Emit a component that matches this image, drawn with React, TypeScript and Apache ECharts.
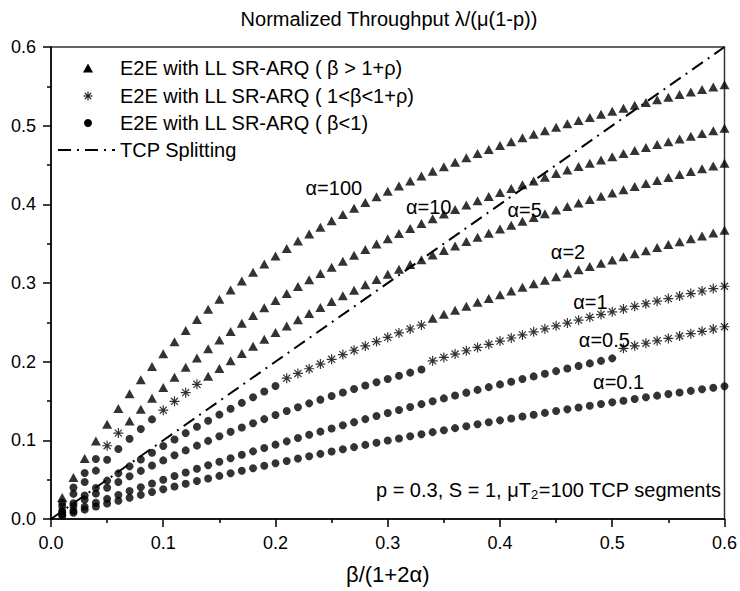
import React, { useEffect, useRef } from 'react';
import * as echarts from 'echarts';

const FONT = '"Liberation Sans", Arial, Helvetica, sans-serif';

const xValues = [
  0.01, 0.02, 0.03, 0.04, 0.05, 0.06, 0.07, 0.08, 0.09, 0.1,
  0.11, 0.12, 0.13, 0.14, 0.15, 0.16, 0.17, 0.18, 0.19, 0.2,
  0.21, 0.22, 0.23, 0.24, 0.25, 0.26, 0.27, 0.28, 0.29, 0.3,
  0.31, 0.32, 0.33, 0.34, 0.35, 0.36, 0.37, 0.38, 0.39, 0.4,
  0.41, 0.42, 0.43, 0.44, 0.45, 0.46, 0.47, 0.48, 0.49, 0.5,
  0.51, 0.52, 0.53, 0.54, 0.55, 0.56, 0.57, 0.58, 0.59, 0.6,
];

const yA100 = [
  0.0273, 0.0529, 0.0768, 0.0993, 0.1205, 0.1404, 0.1593, 0.1771, 0.194, 0.21,
  0.2253, 0.2397, 0.2535, 0.2667, 0.2792, 0.2912, 0.3027, 0.3137, 0.3242, 0.3343,
  0.344, 0.3533, 0.3623, 0.3709, 0.3792, 0.3872, 0.3949, 0.4023, 0.4095, 0.4165,
  0.4232, 0.4297, 0.4359, 0.442, 0.4479, 0.4536, 0.4592, 0.4645, 0.4697, 0.4748,
  0.4797, 0.4845, 0.4891, 0.4936, 0.498, 0.5023, 0.5065, 0.5105, 0.5145, 0.5183,
  0.5221, 0.5258, 0.5293, 0.5328, 0.5362, 0.5396, 0.5428, 0.546, 0.5491, 0.5521,
];
const yA10 = [
  0.0205, 0.04, 0.0585, 0.0762, 0.0931, 0.1092, 0.1247, 0.1394, 0.1536, 0.1672,
  0.1802, 0.1928, 0.2048, 0.2164, 0.2276, 0.2384, 0.2487, 0.2588, 0.2684, 0.2778,
  0.2868, 0.2955, 0.304, 0.3122, 0.3201, 0.3278, 0.3353, 0.3425, 0.3495, 0.3563,
  0.363, 0.3694, 0.3757, 0.3817, 0.3877, 0.3934, 0.399, 0.4045, 0.4098, 0.415,
  0.4201, 0.425, 0.4298, 0.4345, 0.4391, 0.4436, 0.448, 0.4523, 0.4564, 0.4605,
  0.4645, 0.4684, 0.4722, 0.476, 0.4797, 0.4832, 0.4867, 0.4902, 0.4935, 0.4968,
];
const yA5 = [
  0.0163, 0.0319, 0.047, 0.0615, 0.0754, 0.0889, 0.1019, 0.1144, 0.1266, 0.1383,
  0.1496, 0.1606, 0.1712, 0.1815, 0.1914, 0.2011, 0.2105, 0.2196, 0.2284, 0.237,
  0.2453, 0.2534, 0.2613, 0.269, 0.2764, 0.2837, 0.2908, 0.2977, 0.3044, 0.311,
  0.3174, 0.3236, 0.3297, 0.3356, 0.3414, 0.3471, 0.3526, 0.358, 0.3633, 0.3685,
  0.3735, 0.3785, 0.3833, 0.3881, 0.3927, 0.3972, 0.4017, 0.406, 0.4103, 0.4145,
  0.4186, 0.4226, 0.4265, 0.4304, 0.4342, 0.4379, 0.4416, 0.4451, 0.4487, 0.4521,
];
const yA2 = [
  0.0102, 0.0201, 0.0299, 0.0394, 0.0488, 0.058, 0.0669, 0.0757, 0.0843, 0.0928,
  0.1011, 0.1092, 0.1172, 0.125, 0.1327, 0.1402, 0.1476, 0.1548, 0.162, 0.169,
  0.179, 0.185, 0.191, 0.197, 0.203, 0.209, 0.2145, 0.22, 0.2255, 0.231,
  0.2365, 0.2415, 0.2465, 0.2551, 0.2603, 0.2655, 0.2705, 0.2755, 0.2804, 0.2852,
  0.2899, 0.2946, 0.2991, 0.3036, 0.3081, 0.3124, 0.3167, 0.321, 0.3251, 0.3292,
  0.3333, 0.3372, 0.3411, 0.345, 0.3488, 0.3525, 0.3562, 0.3599, 0.3635, 0.367,
];
const yA1 = [
  0.0084, 0.0166, 0.0246, 0.0323, 0.0398, 0.0471, 0.0543, 0.0612, 0.068, 0.0745,
  0.081, 0.0872, 0.0933, 0.0993, 0.1051, 0.1108, 0.1163, 0.1217, 0.127, 0.1321,
  0.1372, 0.1421, 0.147, 0.1517, 0.1563, 0.1608, 0.1653, 0.1696, 0.1738, 0.178,
  0.1821, 0.1861, 0.19, 0.2011, 0.2054, 0.2097, 0.2139, 0.2181, 0.2221, 0.2262,
  0.2301, 0.234, 0.2379, 0.2417, 0.2455, 0.2491, 0.2528, 0.2564, 0.2599, 0.2634,
  0.2669, 0.2703, 0.2736, 0.2769, 0.2802, 0.2834, 0.2866, 0.2898, 0.2929, 0.2959,
];
const yA05 = [
  0.0052, 0.0104, 0.0156, 0.0206, 0.0256, 0.0306, 0.0355, 0.0403, 0.0451, 0.0499,
  0.0546, 0.0592, 0.0638, 0.0683, 0.0728, 0.0772, 0.0816, 0.086, 0.0903, 0.0945,
  0.0987, 0.1029, 0.107, 0.1111, 0.1151, 0.1191, 0.1231, 0.127, 0.1309, 0.1347,
  0.1385, 0.1423, 0.146, 0.1497, 0.1533, 0.157, 0.1606, 0.1641, 0.1676, 0.1711,
  0.1745, 0.178, 0.1813, 0.1847, 0.188, 0.1913, 0.1946, 0.1978, 0.201, 0.2042,
  0.217, 0.2202, 0.2234, 0.2265, 0.2296, 0.2326, 0.2356, 0.2386, 0.2415, 0.2444,
];
const yA01 = [
  0.004, 0.008, 0.0119, 0.0158, 0.0196, 0.0233, 0.027, 0.0307, 0.0343, 0.0378,
  0.0413, 0.0448, 0.0482, 0.0515, 0.0548, 0.0581, 0.0613, 0.0645, 0.0677, 0.0708,
  0.0738, 0.0768, 0.0798, 0.0828, 0.0857, 0.0886, 0.0914, 0.0942, 0.097, 0.0997,
  0.1024, 0.1051, 0.1077, 0.1104, 0.1129, 0.1155, 0.118, 0.1205, 0.123, 0.1254,
  0.1278, 0.1302, 0.1325, 0.1349, 0.1372, 0.1394, 0.1417, 0.1439, 0.1461, 0.1483,
  0.1504, 0.1526, 0.1547, 0.1568, 0.1588, 0.1609, 0.1629, 0.1649, 0.1669, 0.1688,
];

// curves in order α=100, 10, 5, 2, 1, 0.5, 0.1
const curves = [yA100, yA10, yA5, yA2, yA1, yA05, yA01];
// number of leading points in each regime: β<1 (circles), 1<β<1+ρ (stars); rest triangles
const circleCount = [0, 4, 9, 20, 33, 50, 60];
const starCount = [0, 2, 4, 13, 27, 10, 0];

const labelTexts = ['α=100', 'α=10', 'α=5', 'α=2', 'α=1', 'α=0.5', 'α=0.1'];
const labelX = [0.252, 0.3365, 0.422, 0.4606, 0.4806, 0.493, 0.5057];
const labelY = [0.4207, 0.397, 0.3928, 0.3398, 0.2762, 0.2275, 0.1745];

const tcpX = [0, 0.6];
const tcpY = [0, 0.6];

const legendTri = 'E2E with LL SR-ARQ ( β > 1+ρ)';
const legendStar = 'E2E with LL SR-ARQ ( 1<β<1+ρ)';
const legendCirc = 'E2E with LL SR-ARQ ( β<1)';
const legendTcp = 'TCP Splitting';

const STAR_PATH =
  'path://M44 0L56 0L56 100L44 100Z M0 44L100 44L100 56L0 56Z M19 10.5L89.5 81L81 89.5L10.5 19Z M81 10.5L89.5 19L19 89.5L10.5 81Z';

function starLines(cx: number, cy: number, r: number) {
  const d = r * 0.7071;
  const segs = [
    [cx, cy - r, cx, cy + r],
    [cx - r, cy, cx + r, cy],
    [cx - d, cy - d, cx + d, cy + d],
    [cx - d, cy + d, cx + d, cy - d],
  ];
  return segs.map((s) => ({
    type: 'line',
    shape: { x1: s[0], y1: s[1], x2: s[2], y2: s[3] },
    style: { stroke: '#111', lineWidth: 1.1 },
  }));
}

export default function App() {
  const ref = useRef<HTMLDivElement>(null);
  useEffect(() => {
    const chart = echarts.init(ref.current!, undefined, { renderer: 'svg', width: 740, height: 591 });
    const tri: number[][] = [];
    const star: number[][] = [];
    const circ: number[][] = [];
    curves.forEach((ys, c) => {
      ys.forEach((y, i) => {
        const p = [xValues[i], y];
        if (i < circleCount[c]) circ.push(p);
        else if (i < circleCount[c] + starCount[c]) star.push(p);
        else tri.push(p);
      });
    });
    const axisCommon = {
      type: 'value' as const,
      min: 0,
      max: 0.6,
      interval: 0.1,
      axisLine: { show: true, onZero: false, lineStyle: { color: '#000', width: 1.5 } },
      axisTick: { show: true, length: 8, lineStyle: { color: '#000', width: 1.5 } },
      minorTick: { show: true, splitNumber: 2, length: 4, lineStyle: { color: '#000', width: 1.5 } },
      splitLine: { show: false },
      axisLabel: {
        formatter: (v: number) => v.toFixed(1),
        fontSize: 18,
        color: '#000',
        fontFamily: FONT,
        margin: 15,
      },
    };
    chart.setOption({
      animation: false,
      backgroundColor: '#fff',
      grid: { left: 51, right: 13, top: 47, bottom: 72, show: true, borderColor: '#333', borderWidth: 1.5 },
      xAxis: {
        ...axisCommon,
        name: 'β/(1+2α)',
        nameLocation: 'middle',
        nameGap: 44,
        nameTextStyle: { fontSize: 22, color: '#000', fontFamily: FONT },
      },
      yAxis: { ...axisCommon },
      series: [
        {
          name: legendTri,
          type: 'scatter',
          symbol: 'triangle',
          symbolSize: [10, 9],
          itemStyle: { color: '#000' },
          data: tri,
        },
        {
          name: legendStar,
          type: 'scatter',
          symbol: STAR_PATH,
          symbolSize: 10,
          itemStyle: { color: '#000' },
          data: star,
        },
        {
          name: legendCirc,
          type: 'scatter',
          symbol: 'circle',
          symbolSize: 8,
          itemStyle: { color: '#000' },
          data: circ,
        },
        {
          name: legendTcp,
          type: 'line',
          symbol: 'none',
          lineStyle: { color: '#000', width: 2, type: [13, 6, 2, 6] },
          itemStyle: { color: '#000' },
          data: tcpX.map((x, i) => [x, tcpY[i]]),
          z: 1,
        },
      ],
    });
    const labels = labelTexts.map((t, i) => {
      const [px, py] = chart.convertToPixel({ gridIndex: 0 }, [labelX[i], labelY[i]]) as number[];
      return {
        type: 'text',
        x: px,
        y: py,
        z: 10,
        style: {
          text: t,
          fontSize: 20,
          fontFamily: FONT,
          fill: '#000',
          align: 'center',
          verticalAlign: 'middle',
        },
      };
    });
    const legendRowsY = [68, 96, 123, 150];
    const legendTexts = [legendTri, legendStar, legendCirc, legendTcp];
    const legendGraphics: any[] = [
      {
        type: 'polygon',
        shape: { points: [[83, legendRowsY[0] + 4.5], [93, legendRowsY[0] + 4.5], [88, legendRowsY[0] - 4.5]] },
        style: { fill: '#000' },
      },
      ...starLines(88, legendRowsY[1], 4.5),
      { type: 'circle', shape: { cx: 88, cy: legendRowsY[2], r: 4 }, style: { fill: '#000' } },
      {
        type: 'line',
        shape: { x1: 58, y1: legendRowsY[3], x2: 115, y2: legendRowsY[3] },
        style: { stroke: '#000', lineWidth: 2, lineDash: [13, 6, 2, 6] },
      },
      ...legendTexts.map((t, i) => ({
        type: 'text',
        x: 120,
        y: legendRowsY[i],
        style: { text: t, fontSize: 20, fontFamily: FONT, fill: '#000', align: 'left', verticalAlign: 'middle' },
      })),
    ];
    chart.setOption({
      graphic: [
        {
          type: 'text',
          x: 389,
          y: 19,
          style: {
            text: 'Normalized Throughput λ/(μ(1-p))',
            fontSize: 20,
            fontFamily: FONT,
            fill: '#000',
            align: 'center',
            verticalAlign: 'middle',
          },
        },
        ...legendGraphics,
        ...labels,
        {
          type: 'text',
          x: 721,
          y: 490,
          z: 10,
          style: {
            text: '{a|p = 0.3, S = 1, μT}{s|2}{a|=100 TCP segments}',
            align: 'right',
            verticalAlign: 'middle',
            rich: {
              a: { fontSize: 20, fontFamily: FONT, fill: '#000', lineHeight: 22, verticalAlign: 'middle' },
              s: { fontSize: 13, fontFamily: FONT, fill: '#000', lineHeight: 10, verticalAlign: 'bottom' },
            },
          },
        },
      ],
    });
    return () => chart.dispose();
  }, []);
  return <div ref={ref} style={{ width: 740, height: 591, position: 'absolute', left: 0, top: 0 }} />;
}
